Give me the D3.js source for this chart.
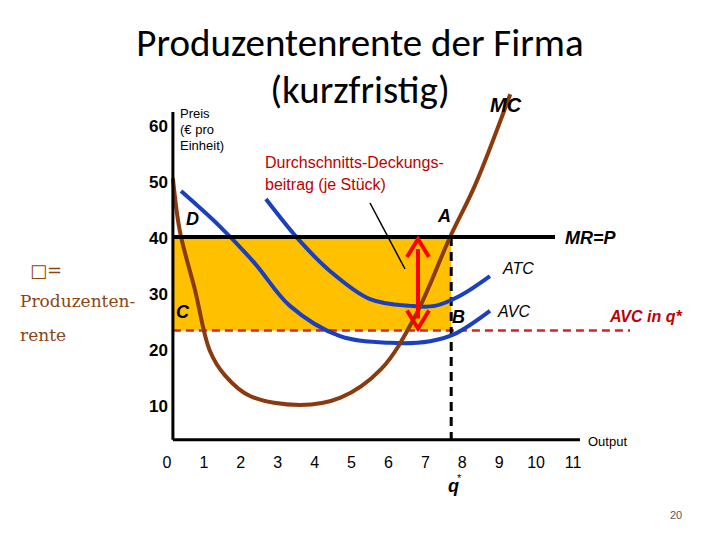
<!DOCTYPE html><html><head><meta charset="utf-8"><script src="https://cdn.jsdelivr.net/npm/d3@7"></script>
<style>body{margin:0;background:#fff}</style></head><body><svg width="720" height="540"></svg>
<script>
const xTicks=[0,1,2,3,4,5,6,7,8,9,10,11];
const yTicks=[10,20,30,40,50,60];
const price=40, avcAtQ=23.3, qStar=7.7, axisY0=3.8, axisX0=0.16;
const mc=[[0.16,50.5],[0.35,41],[0.76,30.5],[1.16,19.7],[1.57,15.3],[2.25,11.6],[3.6,10],[4.7,11.3],[5.8,16.4],[6.72,25.8],[7.67,40],[8.35,49.3],[9.3,65.5]];
const atc=[[2.68,46.8],[3.6,39.3],[4.42,33.9],[5.5,28.9],[6.6,27.7],[7.26,27.7],[7.94,29.5],[8.75,33]];
const avc=[[0.38,48.2],[1.43,41.9],[2.38,35.3],[3.33,27.7],[4.69,22.3],[6.05,21.1],[7.13,21.4],[7.8,22.7],[8.75,26.8]];
const svg=d3.select("svg");
const x=d3.scaleLinear().domain([0,11]).range([167,573]);
const y=d3.scaleLinear().domain([0,60]).range([461,125]);
svg.append("rect").attr("x",x(axisX0)).attr("y",y(price)).attr("width",x(qStar)-x(axisX0)).attr("height",y(avcAtQ)-y(price)).attr("fill","#ffc000");
svg.append("line").attr("x1",x(axisX0)).attr("x2",630).attr("y1",y(avcAtQ)).attr("y2",y(avcAtQ)).attr("stroke","#e02020").attr("stroke-width",2.5).attr("stroke-dasharray","8,5");
svg.append("line").attr("x1",x(qStar)).attr("x2",x(qStar)).attr("y1",y(price)).attr("y2",y(axisY0)).attr("stroke","#000").attr("stroke-width",3).attr("stroke-dasharray","9,6");
const line=d3.line().x(d=>x(d[0])).y(d=>y(d[1])).curve(d3.curveCatmullRom);
svg.append("path").attr("d",line(atc)).attr("fill","none").attr("stroke","#1a3fbf").attr("stroke-width",4);
svg.append("path").attr("d",line(avc)).attr("fill","none").attr("stroke","#1a3fbf").attr("stroke-width",4);
svg.append("path").attr("d",line(mc)).attr("fill","none").attr("stroke","#8b3a0e").attr("stroke-width",4);
svg.append("line").attr("x1",x(axisX0)).attr("x2",555).attr("y1",y(price)).attr("y2",y(price)).attr("stroke","#000").attr("stroke-width",4);
svg.append("line").attr("x1",x(axisX0)).attr("x2",x(axisX0)).attr("y1",112).attr("y2",y(axisY0)).attr("stroke","#000").attr("stroke-width",3);
svg.append("line").attr("x1",x(axisX0)).attr("x2",580).attr("y1",y(axisY0)).attr("y2",y(axisY0)).attr("stroke","#000").attr("stroke-width",3);
const f="Liberation Sans, Arial, sans-serif";
svg.selectAll(".yt").data(yTicks).enter().append("text").attr("x",168).attr("y",d=>y(d)+7).attr("text-anchor","end").attr("font-family",f).attr("font-size",17).attr("font-weight","bold").text(d=>d);
svg.selectAll(".xt").data(xTicks).enter().append("text").attr("x",d=>x(d)).attr("y",468).attr("text-anchor","middle").attr("font-family",f).attr("font-size",16).text(d=>d);
const ax=x(6.8);
svg.append("line").attr("x1",ax).attr("x2",ax).attr("y1",y(price)+12).attr("y2",y(avcAtQ)-12).attr("stroke","#f00").attr("stroke-width",4);
svg.append("path").attr("d",`M${ax-11},${y(price)+20}L${ax},${y(price)+2}L${ax+11},${y(price)+20}`).attr("fill","none").attr("stroke","#f00").attr("stroke-width",4);
svg.append("path").attr("d",`M${ax-11},${y(avcAtQ)-20}L${ax},${y(avcAtQ)-2}L${ax+11},${y(avcAtQ)-20}`).attr("fill","none").attr("stroke","#f00").attr("stroke-width",4);
svg.append("line").attr("x1",370).attr("y1",203).attr("x2",405).attr("y2",269).attr("stroke","#000").attr("stroke-width",1.5);
function t(s,xx,yy,o){const e=svg.append("text").attr("x",xx).attr("y",yy).attr("font-family",o.f||f).attr("font-size",o.s||16).attr("fill",o.c||"#000").text(s);if(o.i)e.attr("font-style","italic");if(o.b)e.attr("font-weight","bold");if(o.a)e.attr("text-anchor",o.a);return e;}
t("Produzentenrente der Firma",360,56,{s:39,a:"middle",f:"Carlito, Calibri, Open Sans, sans-serif"});
t("(kurzfristig)",360,103,{s:39,a:"middle",f:"Carlito, Calibri, Open Sans, sans-serif"});
t("MC",490,112,{s:20,i:true,b:true});
t("Preis",180,118,{s:13});t("(€ pro",180,134,{s:13});t("Einheit)",180,150,{s:13});
t("Durchschnitts-Deckungs-",265,168,{s:16,c:"#c00000"});t("beitrag (je Stück)",265,190,{s:16,c:"#c00000"});
t("D",186,225,{s:18,i:true,b:true});t("A",438,222,{s:18,i:true,b:true});
t("MR=P",565,244,{s:18,i:true,b:true});t("ATC",503,274,{s:16,i:true});
t("C",176,318,{s:18,i:true,b:true});t("B",452,323,{s:18,i:true,b:true});
t("AVC",498,317,{s:16,i:true});t("AVC in q*",610,322,{s:16,i:true,b:true,c:"#c00000"});
t("Output",588,446,{s:13});
t("q",448,492,{s:18,i:true,b:true});t("*",457,482,{s:11});
t("□=",30,277,{s:18,c:"#8b4513",f:"DejaVu Serif, serif"});
t("Produzenten-",20,307,{s:17,c:"#8b4513",f:"DejaVu Serif, serif"});
t("rente",20,341,{s:17,c:"#8b4513",f:"DejaVu Serif, serif"});
t("20",670,519,{s:11,c:"#555"});
</script></body></html>
